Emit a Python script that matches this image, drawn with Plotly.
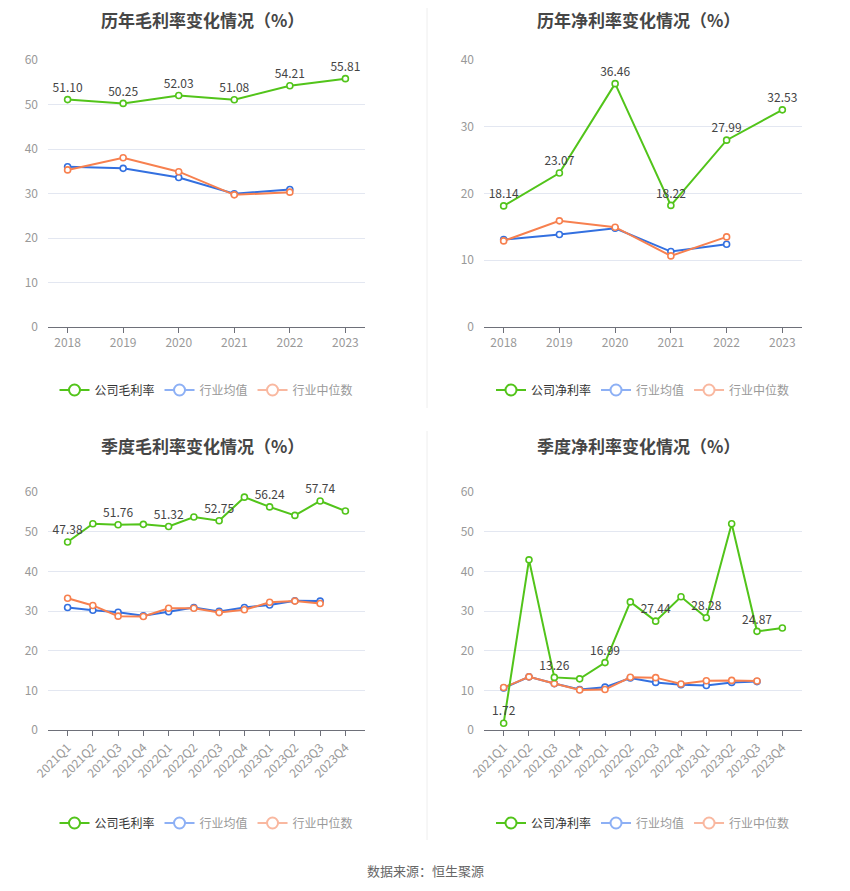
import plotly.graph_objects as go

years = ["2018", "2019", "2020", "2021", "2022", "2023"]
quarters = ["2021Q1", "2021Q2", "2021Q3", "2021Q4", "2022Q1", "2022Q2",
            "2022Q3", "2022Q4", "2023Q1", "2023Q2", "2023Q3", "2023Q4"]

# 历年毛利率
gross_company = [51.10, 50.25, 52.03, 51.08, 54.21, 55.81]
gross_mean = [36.0, 35.65, 33.6, 29.96, 30.9]
gross_median = [35.3, 38.05, 34.9, 29.7, 30.3]

# 历年净利率
net_company = [18.14, 23.07, 36.46, 18.22, 27.99, 32.53]
net_mean = [13.1, 13.85, 14.8, 11.3, 12.4]
net_median = [12.9, 15.9, 14.95, 10.65, 13.5]

# 季度毛利率
q_gross_company = [47.38, 52.0, 51.76, 51.85, 51.32, 53.7, 52.75, 58.7, 56.24, 54.1, 57.74, 55.2]
q_gross_mean = [30.9, 30.2, 29.7, 28.8, 29.8, 30.9, 29.9, 30.9, 31.5, 32.6, 32.5]
q_gross_median = [33.2, 31.4, 28.7, 28.6, 30.7, 30.7, 29.6, 30.3, 32.2, 32.5, 31.9]

# 季度净利率
q_net_company = [1.72, 42.9, 13.26, 12.9, 16.99, 32.3, 27.44, 33.6, 28.28, 52.0, 24.87, 25.7]
q_net_mean = [10.6, 13.4, 11.7, 10.2, 10.8, 13.1, 12.0, 11.4, 11.2, 12.0, 12.2]
q_net_median = [10.7, 13.4, 11.7, 10.1, 10.2, 13.3, 13.2, 11.6, 12.4, 12.5, 12.35]

titles = ["历年毛利率变化情况（%）", "历年净利率变化情况（%）",
          "季度毛利率变化情况（%）", "季度净利率变化情况（%）"]
company_names = ["公司毛利率", "公司净利率", "公司毛利率", "公司净利率"]

GREEN = "#52C41A"
BLUE = "#3370E0"
ORANGE = "#F7804F"
FONT = "Noto Sans CJK SC"
W, H = 850, 891
OFF = 8  # page body margin shifts the figure by this much


def px(x):
    return (x - OFF) / W


def py(y):
    return 1 - (y - OFF) / H


panels = [
    (years, gross_company, gross_mean, gross_median, 60, 10, None),
    (years, net_company, net_mean, net_median, 40, 10, None),
    (quarters, q_gross_company, q_gross_mean, q_gross_median, 60, 10, "even"),
    (quarters, q_net_company, q_net_mean, q_net_median, 60, 10, "even"),
]

# pixel boxes of the plot areas: (left, right, top, bottom)
boxes = [(48, 365, 60, 327), (484, 802, 60, 327), (48, 365, 492, 730), (484, 802, 492, 730)]
title_x = [202, 638, 202, 638]
title_y = [19, 19, 445, 445]
legend_y = [390, 390, 823, 823]

fig = go.Figure()

for i, (cats, comp, mean, med, ymax, dtick, lab) in enumerate(panels):
    n = i + 1
    xa = "x" if n == 1 else f"x{n}"
    ya = "y" if n == 1 else f"y{n}"
    lg = "legend" if n == 1 else f"legend{n}"
    if lab == "even":
        texts = [f"{v:.2f}" if k % 2 == 0 else "" for k, v in enumerate(comp)]
    else:
        texts = [f"{v:.2f}" for v in comp]

    def add_line(y, color, text=None):
        fig.add_trace(go.Scatter(
            x=cats[:len(y)], y=y, mode="lines+markers+text" if text else "lines+markers",
            text=text, textposition="top center",
            textfont=dict(size=12, color="#444", family=FONT),
            line=dict(color=color, width=2),
            marker=dict(symbol="circle", size=6, color="white", line=dict(color=color, width=1.6)),
            xaxis=xa, yaxis=ya, showlegend=False, hoverinfo="x+y", cliponaxis=False))

    add_line(mean, BLUE)
    add_line(med, ORANGE)
    add_line(comp, GREEN, texts)

    # legend entries
    for name, color, tcolor in [(company_names[i], GREEN, "#333"),
                                ("行业均值", "#8DB0F5", "#999"),
                                ("行业中位数", "#F9B8A0", "#999")]:
        fig.add_trace(go.Scatter(
            x=[None], y=[None], mode="lines+markers",
            name=f"<span style='color:{tcolor}'>{name}</span>",
            line=dict(color=color, width=2),
            marker=dict(symbol="circle", size=11, color="white", line=dict(color=color, width=2)),
            xaxis=xa, yaxis=ya, legend=lg, showlegend=True))

    l, r, t, b = boxes[i]
    fig.update_layout(**{
        ("xaxis" if n == 1 else f"xaxis{n}"): dict(
            domain=[px(l), px(r)], anchor=ya, type="category", automargin=False,
            showline=True, linecolor="#6E7079", linewidth=1,
            ticks="outside", ticklen=5, tickcolor="#6E7079",
            tickfont=dict(size=12, color="#999", family=FONT),
            tickangle=-45 if lab == "even" else 0,
            showgrid=False, fixedrange=True),
        ("yaxis" if n == 1 else f"yaxis{n}"): dict(
            domain=[py(b), py(t)], anchor=xa, range=[0, ymax], dtick=dtick, automargin=False,
            showline=False, zeroline=False,
            gridcolor="#E3E7F1", gridwidth=1,
            tickfont=dict(size=12, color="#999", family=FONT),
            ticks="", ticklabelstandoff=9, fixedrange=True),
        lg: dict(
            orientation="h", x=px((l + r) / 2), xanchor="center",
            y=py(legend_y[i]), yanchor="middle",
            font=dict(size=12, color="#999", family=FONT),
            itemwidth=30, bgcolor="rgba(0,0,0,0)"),
    })

    fig.add_annotation(
        text=f"<b>{titles[i]}</b>", xref="paper", yref="paper",
        x=px(title_x[i]), y=py(title_y[i]),
        xanchor="center", yanchor="middle", showarrow=False,
        font=dict(size=17, color="#464646", family=FONT))

# column divider
for y0, y1 in [(8, 408), (431, 840)]:
    fig.add_shape(type="line", xref="paper", yref="paper",
                  x0=px(427), x1=px(427), y0=py(y1), y1=py(y0),
                  line=dict(color="#EEEEEE", width=1))

fig.add_annotation(text="数据来源：恒生聚源", xref="paper", yref="paper",
                   x=px(425), y=py(870), xanchor="center", yanchor="middle",
                   showarrow=False, font=dict(size=13, color="#666", family=FONT))

fig.update_layout(
    width=W, height=H, margin=dict(l=0, r=0, t=0, b=0, pad=0, autoexpand=False),
    paper_bgcolor="white", plot_bgcolor="white",
    font=dict(family=FONT),
)

fig.write_html("out.html")
